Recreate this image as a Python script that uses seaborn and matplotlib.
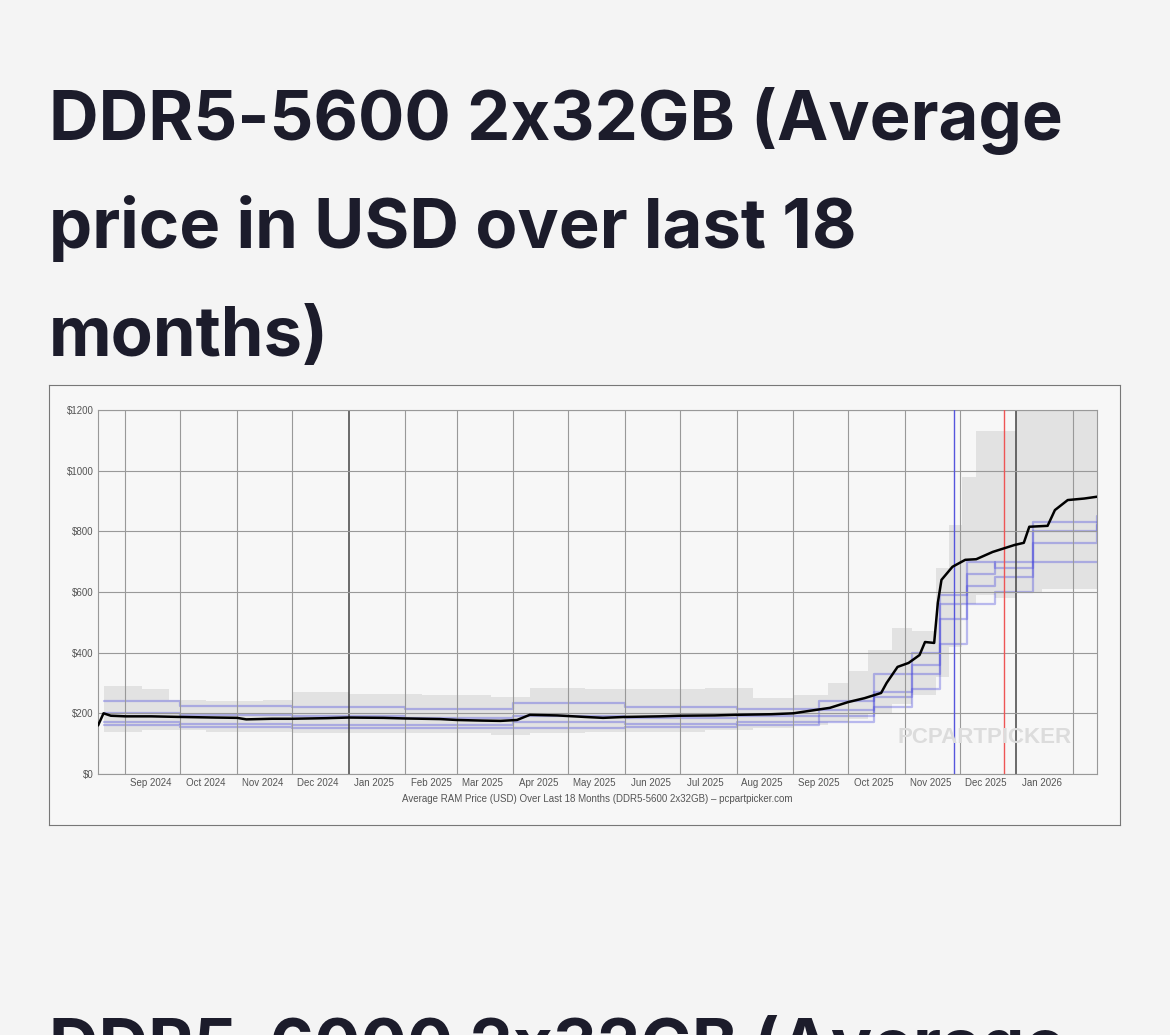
import matplotlib
matplotlib.use("Agg")
import matplotlib.pyplot as plt
import seaborn as sns
import pandas as pd

sns.set_theme(style="white")
plt.rcParams['font.family'] = ['Liberation Sans', 'DejaVu Sans']

# Average price line
avg_dates = ["2024-08-17","2024-08-20","2024-08-24","2024-09-01","2024-09-15","2024-10-01","2024-10-20",
             "2024-11-01","2024-11-06","2024-11-20","2024-12-01","2024-12-20","2025-01-01","2025-01-20",
             "2025-02-01","2025-02-20","2025-03-01","2025-03-15","2025-03-25","2025-04-03","2025-04-10",
             "2025-04-25","2025-05-10","2025-05-20","2025-06-01","2025-06-20","2025-07-01","2025-07-20",
             "2025-08-01","2025-08-20","2025-09-01","2025-09-12","2025-09-21","2025-10-01","2025-10-10",
             "2025-10-19","2025-10-22","2025-10-28","2025-11-03","2025-11-09","2025-11-12","2025-11-17",
             "2025-11-19","2025-11-21","2025-11-27","2025-12-04","2025-12-10","2025-12-19","2025-12-31",
             "2026-01-05","2026-01-08","2026-01-18","2026-01-22","2026-01-29","2026-02-07","2026-02-14"]
avg_price = [160,200,192,190,190,188,186,185,180,182,182,184,186,185,183,181,178,176,175,178,195,
             193,188,185,188,190,192,193,195,197,200,210,218,237,250,267,300,353,366,392,435,432,
             564,640,683,706,708,732,755,762,815,818,870,903,908,914]

# Min / max range of listed products (grey band)
band_dates = ["2024-08-20","2024-09-10","2024-09-25","2024-10-15","2024-11-15","2024-12-01","2025-01-01",
              "2025-02-10","2025-03-20","2025-04-10","2025-05-10","2025-06-15","2025-07-15","2025-08-10",
              "2025-09-01","2025-09-20","2025-10-01","2025-10-12","2025-10-25","2025-11-05","2025-11-18",
              "2025-11-25","2025-12-02","2025-12-10","2025-12-20","2026-01-01","2026-01-15","2026-02-14"]
band_low = [140,145,145,140,140,135,135,135,130,135,140,140,145,150,160,170,180,200,230,260,320,
            420,560,590,580,600,610,620]
band_high = [290,280,245,240,245,270,265,260,255,285,280,280,285,250,260,300,340,410,480,470,680,
             820,980,1130,1130,1200,1200,1200]

# Individual product price tracks (blue)
prod_dates = ["2024-08-20","2024-10-01","2024-12-01","2025-02-01","2025-04-01","2025-06-01","2025-08-01",
              "2025-09-15","2025-10-15","2025-11-05","2025-11-20","2025-12-05","2025-12-20","2026-01-10",
              "2026-02-14"]
prod_a = [240,225,220,215,235,220,215,240,330,400,590,700,680,830,850]
prod_b = [170,165,160,160,170,165,170,190,255,330,510,620,650,760,820]
prod_c = [160,155,150,150,150,155,160,170,220,280,430,560,600,700,700]
prod_d = [200,195,190,185,190,185,190,210,270,360,560,660,700,800,830]

month_ticks = ["2024-09","2024-10","2024-11","2024-12","2025-01","2025-02","2025-03","2025-04","2025-05",
               "2025-06","2025-07","2025-08","2025-09","2025-10","2025-11","2025-12","2026-01"]
month_labels = ["Sep 2024","Oct 2024","Nov 2024","Dec 2024","Jan 2025","Feb 2025","Mar 2025","Apr 2025",
                "May 2025","Jun 2025","Jul 2025","Aug 2025","Sep 2025","Oct 2025","Nov 2025","Dec 2025","Jan 2026"]
y_ticks = [0,200,400,600,800,1000,1200]

BG = "#f4f4f4"
fig = plt.figure(figsize=(11.7,10.35), dpi=100, facecolor=BG)

# chart container as a background axes
box = fig.add_axes([0.0419,0.2029,0.9154,0.4251], zorder=0)
box.set_facecolor("#f7f7f7")
box.set_xticks([]); box.set_yticks([])
for s in box.spines.values():
    s.set_color("#777777"); s.set_linewidth(0.8)

ax = fig.add_axes([0.0838,0.2522,0.8538,0.3517], zorder=2)
ax.set_facecolor("#f7f7f7")

bd = pd.to_datetime(band_dates)
ax.fill_between(bd, band_low, band_high, step="post", color="#dcdcdc", alpha=0.75, lw=0, zorder=1)

pdts = pd.to_datetime(prod_dates)
for vals in (prod_a, prod_b, prod_c, prod_d):
    ax.step(pdts, vals, where="post", color="#4444dd", alpha=0.35, lw=1.6, zorder=2)

df = pd.DataFrame({"date": pd.to_datetime(avg_dates), "price": avg_price})
sns.lineplot(data=df, x="date", y="price", ax=ax, color="black", lw=1.8, zorder=5)

for m in month_ticks:
    d = pd.Timestamp(m + "-01")
    dark = d.month == 1
    ax.axvline(d, color="#444444" if dark else "#999999", lw=1.1 if dark else 0.8, zorder=3)
ax.axvline(pd.Timestamp("2026-02-01"), color="#999999", lw=0.8, zorder=3)
for y in y_ticks:
    ax.axhline(y, color="#999999", lw=0.8, zorder=3)
ax.axvline(pd.Timestamp("2025-11-28"), color="#5555dd", lw=1.0, zorder=4)
ax.axvline(pd.Timestamp("2025-12-25"), color="#ee5555", lw=1.0, zorder=4)

ax.set_xlim(pd.Timestamp("2024-08-17"), pd.Timestamp("2026-02-14"))
ax.set_ylim(0,1200)
ax.set_yticks(y_ticks)
ax.set_yticklabels([f"${v}" for v in y_ticks], fontsize=7, color="#555555")
mids = [pd.Timestamp(m + "-15") for m in month_ticks]
ax.set_xticks(mids)
ax.set_xticklabels(month_labels, fontsize=7, color="#555555")
ax.tick_params(length=0, pad=3)
ax.set_xlabel("Average RAM Price (USD) Over Last 18 Months (DDR5-5600 2x32GB) \u2013 pcpartpicker.com",
              fontsize=7, color="#555555", labelpad=4)
ax.set_ylabel("")
for s in ax.spines.values():
    s.set_color("#999999"); s.set_linewidth(0.8)

ax.text(0.975, 0.10, "PCPARTPICKER", transform=ax.transAxes, fontsize=16, color="#dcdcdc",
        ha="right", va="center", fontweight="bold", zorder=6)

tcol = "#1c1c2b"
for y, t in [(140, "DDR5-5600 2x32GB (Average"), (248, "price in USD over last 18"), (356, "months)")]:
    fig.text(49/1170, 1 - y/1035, t, fontsize=49.5, fontweight="bold", color=tcol,
             family=["Inter", "DejaVu Sans"], va="baseline", ha="left")
fig.text(49/1170, 1 - 1068/1035, "DDR5-6000 2x32GB (Average", fontsize=49.5, fontweight="bold",
         color=tcol, family=["Inter", "DejaVu Sans"], va="baseline", ha="left")

fig.savefig("out.png", dpi=100, facecolor=BG)
